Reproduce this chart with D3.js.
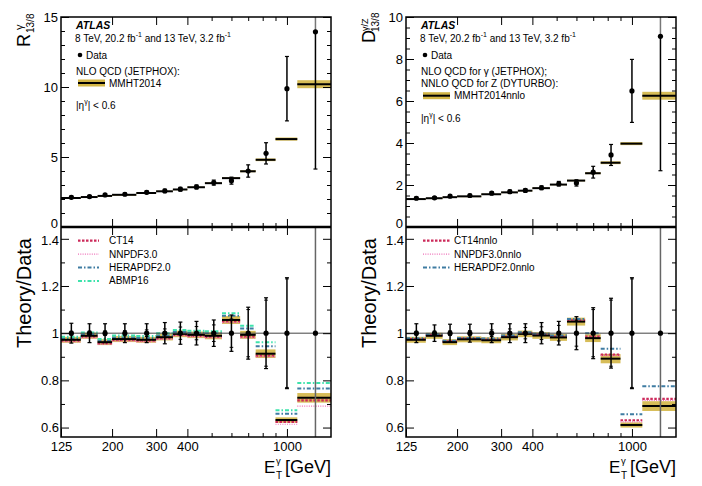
<!DOCTYPE html>
<html><head><meta charset="utf-8">
<script src="https://cdn.jsdelivr.net/npm/d3@7"></script>
<style>
body{margin:0;background:#fff}
svg{display:block}
text{font-family:"Liberation Sans",Arial,Helvetica,sans-serif;fill:#000}
</style>
</head><body>
<svg id="c" width="702" height="486"></svg>
<script>
// ---------------- DATA ----------------
const binEdges   = [125,150,175,200,250,300,350,400,470,550,650,750,900,1100,1500];
const binCenters = [137.5,162.5,187.5,225,275,325,375,435,510,600,700,825,1000,1300];
const xTickLabels = [125,200,300,400,1000];
const xMinorTicks = [500,600,700,800,900];

// left: R^gamma_13/8
const rData      = [2.12,2.17,2.29,2.34,2.48,2.58,2.70,2.86,3.17,3.31,4.00,5.26,9.88,13.94];
const rDataErr   = [0.09,0.09,0.09,0.09,0.10,0.12,0.13,0.14,0.18,0.25,0.44,0.76,2.30,9.80];
const rTheory    = [2.07,2.14,2.22,2.30,2.43,2.55,2.68,2.84,3.13,3.49,3.98,4.80,6.28,10.20];
const rBandRel   = [0.013,0.013,0.013,0.013,0.013,0.014,0.014,0.014,0.015,0.016,0.017,0.02,0.018,0.028];
const rRatioErr  = [0.042,0.040,0.040,0.040,0.040,0.045,0.047,0.050,0.056,0.077,0.110,0.150,0.235,0.700];
const rRatioStat = [0.008,0.009,0.010,0.011,0.014,0.018,0.026,0.028,0.035,0.060,0.100,0.140,0.230,0.690];
const rMMHT      = [0.972,0.989,0.962,0.975,0.972,0.983,0.997,0.993,0.989,1.056,0.993,0.913,0.632,0.726];
const rCT14      = [0.968,0.985,0.957,0.971,0.968,0.978,0.993,0.988,0.984,1.050,0.985,0.905,0.624,0.715];
const rNNPDF     = [0.963,0.980,0.953,0.966,0.963,0.974,0.988,0.984,0.980,1.045,0.980,0.900,0.614,0.691];
const rHERA      = [0.978,0.995,0.968,0.982,0.980,0.990,1.005,1.002,1.000,1.074,1.020,0.945,0.659,0.766];
const rABMP      = [0.985,1.003,0.975,0.990,0.988,1.000,1.013,1.010,1.008,1.084,1.032,0.962,0.673,0.789];

// right: D^{gamma/Z}_13/8
const dData      = [1.37,1.39,1.47,1.50,1.61,1.68,1.74,1.87,2.06,2.10,2.61,3.43,6.48,9.08];
const dDataErr   = [0.06,0.06,0.06,0.06,0.07,0.08,0.08,0.09,0.11,0.15,0.28,0.50,1.50,6.40];
const dTheory    = [1.33,1.37,1.42,1.46,1.56,1.65,1.73,1.85,2.02,2.21,2.56,3.06,3.97,6.25];
const dBandRel   = [0.013,0.013,0.013,0.013,0.013,0.014,0.014,0.014,0.015,0.016,0.017,0.022,0.018,0.030];
const dRatioErr  = [0.040,0.035,0.038,0.038,0.040,0.040,0.040,0.045,0.050,0.070,0.108,0.148,0.235,0.700];
const dRatioStat = [0.008,0.009,0.010,0.011,0.014,0.018,0.024,0.027,0.033,0.055,0.100,0.140,0.230,0.690];
const dMMHT      = [0.972,0.989,0.962,0.974,0.970,0.983,0.997,0.990,0.982,1.049,0.979,0.892,0.611,0.691];
const dCT14      = [0.975,0.992,0.965,0.977,0.973,0.986,1.000,0.994,0.986,1.054,0.985,0.909,0.631,0.722];
const dNNPDF     = [0.973,0.990,0.963,0.975,0.971,0.984,0.998,0.992,0.984,1.052,0.982,0.905,0.624,0.715];
const dHERA      = [0.978,0.995,0.968,0.980,0.977,0.990,1.004,0.998,0.990,1.060,1.000,0.934,0.656,0.775];

// ---------------- STYLE ----------------
const COL = {band:"#d3b646", ct:"#cc2a5a", nn:"#ee70b8", hera:"#3f7ca2", abmp:"#3ee3ac"};
const STY = {
  ct:  {c:COL.ct,  w:2.2, d:"2.5,1.5"},
  nn:  {c:COL.nn,  w:1.2, d:"1,1.3"},
  hera:{c:COL.hera,w:2,   d:"4,2,1.5,2"},
  abmp:{c:COL.abmp,w:2,   d:"4,2,1.5,2"}
};
const svg = d3.select("#c");
const TOP0=17, MID=227, BOT=437;

function rich(sel, parts, size){
  let shift=0;
  parts.forEach(([s,k])=>{
    const t=sel.append("tspan").text(s);
    const target = k==="sup" ? -0.42*size : (k==="sub" ? 0.28*size : 0);
    t.attr("dy", target-shift); shift=target;
    if(k!=="n") t.attr("font-size", size*0.7);
  });
}

function drawSide(o){
  const g = svg.append("g");
  const x  = d3.scaleLog().domain([125,1500]).range([o.x0,o.x1]);
  const yT = d3.scaleLinear().domain(o.topDomain).range([MID,TOP0]);
  const yR = d3.scaleLinear().domain([0.56,1.45]).range([BOT,MID]);
  const n = binCenters.length;
  const idx = d3.range(n);

  const cidT = o.id+"T", cidR = o.id+"R";
  const defs = g.append("defs");
  defs.append("clipPath").attr("id",cidT).append("rect")
    .attr("x",o.x0).attr("y",TOP0).attr("width",o.x1-o.x0).attr("height",MID-TOP0);
  defs.append("clipPath").attr("id",cidR).append("rect")
    .attr("x",o.x0).attr("y",MID).attr("width",o.x1-o.x0).attr("height",BOT-MID);

  // ---------- top panel ----------
  const gt = g.append("g").attr("clip-path",`url(#${cidT})`);
  gt.selectAll("rect.band").data(idx).join("rect")
    .attr("x",i=>x(binEdges[i])).attr("width",i=>x(binEdges[i+1])-x(binEdges[i]))
    .attr("y",i=>yT(o.theory[i]*(1+o.bandRel[i])))
    .attr("height",i=>Math.max(1.2,yT(o.theory[i]*(1-o.bandRel[i]))-yT(o.theory[i]*(1+o.bandRel[i]))))
    .attr("fill",COL.band).attr("opacity",0.9);
  gt.selectAll("line.th").data(idx).join("line")
    .attr("x1",i=>x(binEdges[i])).attr("x2",i=>x(binEdges[i+1]))
    .attr("y1",i=>yT(o.theory[i])).attr("y2",i=>yT(o.theory[i]))
    .attr("stroke","#000").attr("stroke-width",2);
  idx.forEach(i=>{
    const cx=x(binCenters[i]), v=o.data[i], e=o.dataErr[i];
    const hi=v+e, lo=v-e;
    const yhi=Math.max(yT(hi),TOP0), ylo=Math.min(yT(lo),MID);
    gt.append("line").attr("x1",cx).attr("x2",cx).attr("y1",yT(v)).attr("y2",ylo)
      .attr("stroke","#000").attr("stroke-width",1.5);
    gt.append("line").attr("x1",cx).attr("x2",cx).attr("y1",yT(v)).attr("y2",yhi)
      .attr("stroke", yT(hi)<TOP0 ? "#777" : "#000").attr("stroke-width",1.5);
    if(yT(hi)>=TOP0) gt.append("line").attr("x1",cx-2).attr("x2",cx+2).attr("y1",yhi).attr("y2",yhi).attr("stroke","#000").attr("stroke-width",1.2);
    if(yT(lo)<=MID) gt.append("line").attr("x1",cx-2).attr("x2",cx+2).attr("y1",ylo).attr("y2",ylo).attr("stroke","#000").attr("stroke-width",1.2);
    gt.append("circle").attr("cx",cx).attr("cy",yT(v)).attr("r",2.6).attr("fill","#000");
  });

  // ---------- ratio panel ----------
  const gr = g.append("g").attr("clip-path",`url(#${cidR})`);
  gr.selectAll("rect.band").data(idx).join("rect")
    .attr("x",i=>x(binEdges[i])).attr("width",i=>x(binEdges[i+1])-x(binEdges[i]))
    .attr("y",i=>yR(o.mmht[i]*(1+o.bandRel[i])))
    .attr("height",i=>yR(o.mmht[i]*(1-o.bandRel[i]))-yR(o.mmht[i]*(1+o.bandRel[i])))
    .attr("fill",COL.band).attr("opacity",0.9);
  o.pdfs.forEach(p=>{
    const s=STY[p.key];
    gr.selectAll(null).data(idx).join("line")
      .attr("x1",i=>x(binEdges[i])).attr("x2",i=>x(binEdges[i+1]))
      .attr("y1",i=>yR(p.vals[i])).attr("y2",i=>yR(p.vals[i]))
      .attr("stroke",s.c).attr("stroke-width",s.w).attr("stroke-dasharray",s.d);
  });
  gr.selectAll("line.mm").data(idx).join("line")
    .attr("x1",i=>x(binEdges[i])).attr("x2",i=>x(binEdges[i+1]))
    .attr("y1",i=>yR(o.mmht[i])).attr("y2",i=>yR(o.mmht[i]))
    .attr("stroke","#000").attr("stroke-width",2);
  gr.append("line").attr("x1",o.x0).attr("x2",o.x1).attr("y1",yR(1)).attr("y2",yR(1))
    .attr("stroke","#444").attr("stroke-width",1);
  idx.forEach(i=>{
    const cx=x(binCenters[i]), e=o.ratioErr[i], st=o.ratioStat[i];
    const clipped = yR(1+e)<MID && yR(1-e)>BOT;
    const yhi=Math.max(yR(1+e),MID), ylo=Math.min(yR(1-e),BOT);
    gr.append("line").attr("x1",cx).attr("x2",cx).attr("y1",yhi).attr("y2",ylo)
      .attr("stroke",clipped?"#666":"#000").attr("stroke-width",1.5);
    if(!clipped){
      [1+e,1-e].forEach(v=>gr.append("line").attr("x1",cx-2).attr("x2",cx+2).attr("y1",yR(v)).attr("y2",yR(v)).attr("stroke","#000").attr("stroke-width",1.2));
      [1+st,1-st].forEach(v=>gr.append("line").attr("x1",cx-1.8).attr("x2",cx+1.8).attr("y1",yR(v)).attr("y2",yR(v)).attr("stroke","#000").attr("stroke-width",1));
    }
    gr.append("circle").attr("cx",cx).attr("cy",yR(1)).attr("r",2.6).attr("fill","#000");
  });

  // ---------- axes ----------
  const fs=13;
  function styleAx(a){ a.select(".domain").remove(); a.selectAll("text").attr("font-size",fs).attr("font-family",null); a.selectAll("line").attr("stroke","#000"); }
  const axTop = g.append("g").attr("transform",`translate(${o.x0},0)`)
    .call(d3.axisLeft(yT).tickValues(o.topMajor).tickSize(-8).tickPadding(3).tickFormat(d3.format("d"))).call(styleAx);
  // lift the "0" label slightly so it does not collide with the ratio panel's top label
  axTop.selectAll(".tick").filter(d=>d===0).select("text").attr("dy","0.05em");
  g.append("g").attr("transform",`translate(${o.x0},0)`)
    .call(d3.axisLeft(yT).tickValues(o.topMinor).tickSize(-4).tickFormat("")).call(styleAx);
  g.append("g").attr("transform",`translate(${o.x1},0)`)
    .call(d3.axisRight(yT).tickValues(o.topMajor).tickSize(-8).tickFormat("")).call(styleAx);
  g.append("g").attr("transform",`translate(${o.x1},0)`)
    .call(d3.axisRight(yT).tickValues(o.topMinor).tickSize(-4).tickFormat("")).call(styleAx);
  const rMaj=[0.6,0.8,1.0,1.2,1.4], rMin=[0.7,0.9,1.1,1.3];
  const axR = g.append("g").attr("transform",`translate(${o.x0},0)`)
    .call(d3.axisLeft(yR).tickValues(rMaj).tickSize(-8).tickPadding(2).tickFormat(d3.format("~g"))).call(styleAx);
  axR.selectAll(".tick").filter(d=>d===1.4).select("text").attr("dy","0.45em");
  g.append("g").attr("transform",`translate(${o.x0},0)`)
    .call(d3.axisLeft(yR).tickValues(rMin).tickSize(-4).tickFormat("")).call(styleAx);
  g.append("g").attr("transform",`translate(${o.x1},0)`)
    .call(d3.axisRight(yR).tickValues(rMaj).tickSize(-8).tickFormat("")).call(styleAx);
  g.append("g").attr("transform",`translate(${o.x1},0)`)
    .call(d3.axisRight(yR).tickValues(rMin).tickSize(-4).tickFormat("")).call(styleAx);
  [[TOP0,"top"],[MID,"bottom"],[MID,"top"],[BOT,"bottom"]].forEach(([yy,side])=>{
    const mk = side==="bottom" ? d3.axisBottom : d3.axisTop;
    const isLab = (yy===BOT);
    g.append("g").attr("transform",`translate(0,${yy})`)
      .call(mk(x).tickValues(isLab?xTickLabels:xTickLabels.slice(1)).tickSize(-8).tickPadding(5)
        .tickFormat(isLab?d3.format("d"):"")).call(styleAx);
    g.append("g").attr("transform",`translate(0,${yy})`)
      .call(mk(x).tickValues(xMinorTicks).tickSize(-4).tickFormat("")).call(styleAx);
  });
  g.append("rect").attr("x",o.x0).attr("y",TOP0).attr("width",o.x1-o.x0).attr("height",BOT-TOP0)
    .attr("fill","none").attr("stroke","#000").attr("stroke-width",1.5);
  g.append("line").attr("x1",o.x0).attr("x2",o.x1).attr("y1",MID).attr("y2",MID)
    .attr("stroke","#000").attr("stroke-width",2.5);

  // ---------- titles ----------
  const bx=o.x0-31;
  g.append("text").attr("transform",`translate(${bx},${o.mainY}) rotate(-90)`).attr("font-size",18).text(o.yMain);
  g.append("text").attr("transform",`translate(${bx-7},${o.supY}) rotate(-90)`).attr("font-size",o.supSize).text(o.ySup);
  g.append("text").attr("transform",`translate(${bx+4},${o.subY}) rotate(-90)`).attr("font-size",10).text("13/8");
  g.append("text").attr("transform",`translate(${bx+1},238) rotate(-90)`).attr("text-anchor","end").attr("font-size",20).text("Theory/Data");
  g.append("text").attr("x",o.x1-67).attr("y",473).attr("font-size",17).text("E");
  g.append("text").attr("x",o.x1-55).attr("y",479).attr("font-size",10).text("T");
  g.append("text").attr("x",o.x1-55).attr("y",463.5).attr("font-size",9.5).text("γ");
  g.append("text").attr("x",o.x1).attr("y",473).attr("text-anchor","end").attr("font-size",18).text("[GeV]");

  // ---------- legends ----------
  const L=o.x0+15;
  g.append("text").attr("x",L).attr("y",28.5).attr("font-size",10.5).attr("font-weight","bold").attr("font-style","italic").text("ATLAS");
  const t8=g.append("text").attr("x",L-1).attr("y",41.5).attr("font-size",10);
  rich(t8,[["8 TeV, 20.2 fb","n"],["-1","sup"],[" and 13 TeV, 3.2 fb","n"],["-1","sup"]],10);
  g.append("circle").attr("cx",L+4).attr("cy",55).attr("r",2.3).attr("fill","#000");
  g.append("text").attr("x",L+10).attr("y",58.5).attr("font-size",10).text("Data");
  o.legLines.forEach((s,k)=>g.append("text").attr("x",L).attr("y",74.5+k*12.5).attr("font-size",10).text(s));
  const by=o.bandY;
  g.append("rect").attr("x",L+2).attr("y",by-3.5).attr("width",27).attr("height",7).attr("fill",COL.band);
  g.append("line").attr("x1",L+2).attr("x2",L+29).attr("y1",by).attr("y2",by).attr("stroke","#000").attr("stroke-width",2);
  g.append("text").attr("x",L+33).attr("y",by+3.5).attr("font-size",10).text(o.mmhtName);
  const te=g.append("text").attr("x",L).attr("y",o.etaY).attr("font-size",10);
  rich(te,[["|η","n"],["γ","sup"],["| < 0.6","n"]],10);

  o.pdfs.forEach((p,k)=>{
    const s=STY[p.key], yy=240.7+k*13.4;
    g.append("line").attr("x1",L+2).attr("x2",L+o.legLen).attr("y1",yy).attr("y2",yy)
      .attr("stroke",s.c).attr("stroke-width",s.w).attr("stroke-dasharray",s.d);
    g.append("text").attr("x",L+o.legText).attr("y",yy+3.5).attr("font-size",10).text(p.name);
  });
}

drawSide({
  id:"L", x0:61, x1:331, topDomain:[0,15], topMajor:[0,5,10,15],
  topMinor:[1,2,3,4,6,7,8,9,11,12,13,14],
  data:rData, dataErr:rDataErr, theory:rTheory, bandRel:rBandRel,
  ratioErr:rRatioErr, ratioStat:rRatioStat, mmht:rMMHT,
  pdfs:[{key:"ct",name:"CT14",vals:rCT14},{key:"nn",name:"NNPDF3.0",vals:rNNPDF},
        {key:"hera",name:"HERAPDF2.0",vals:rHERA},{key:"abmp",name:"ABMP16",vals:rABMP}],
  yMain:"R", ySup:"γ", supSize:11, mainY:47, supY:30, subY:33,
  legLines:["NLO QCD (JETPHOX):"], bandY:83, mmhtName:"MMHT2014", etaY:108.5,
  legLen:23, legText:33
});
drawSide({
  id:"R", x0:406, x1:676, topDomain:[0,10], topMajor:[0,2,4,6,8,10],
  topMinor:[0.5,1,1.5,2.5,3,3.5,4.5,5,5.5,6.5,7,7.5,8.5,9,9.5],
  data:dData, dataErr:dDataErr, theory:dTheory, bandRel:dBandRel,
  ratioErr:dRatioErr, ratioStat:dRatioStat, mmht:dMMHT,
  pdfs:[{key:"ct",name:"CT14nnlo",vals:dCT14},{key:"nn",name:"NNPDF3.0nnlo",vals:dNNPDF},
        {key:"hera",name:"HERAPDF2.0nnlo",vals:dHERA}],
  yMain:"D", ySup:"γ/Z", supSize:9, mainY:43, supY:31, subY:32,
  legLines:["NLO QCD for γ (JETPHOX);","NNLO QCD for Z (DYTURBO):"], bandY:95.7, mmhtName:"MMHT2014nnlo", etaY:121.5,
  legLen:29, legText:33
});
</script>
</body></html>
